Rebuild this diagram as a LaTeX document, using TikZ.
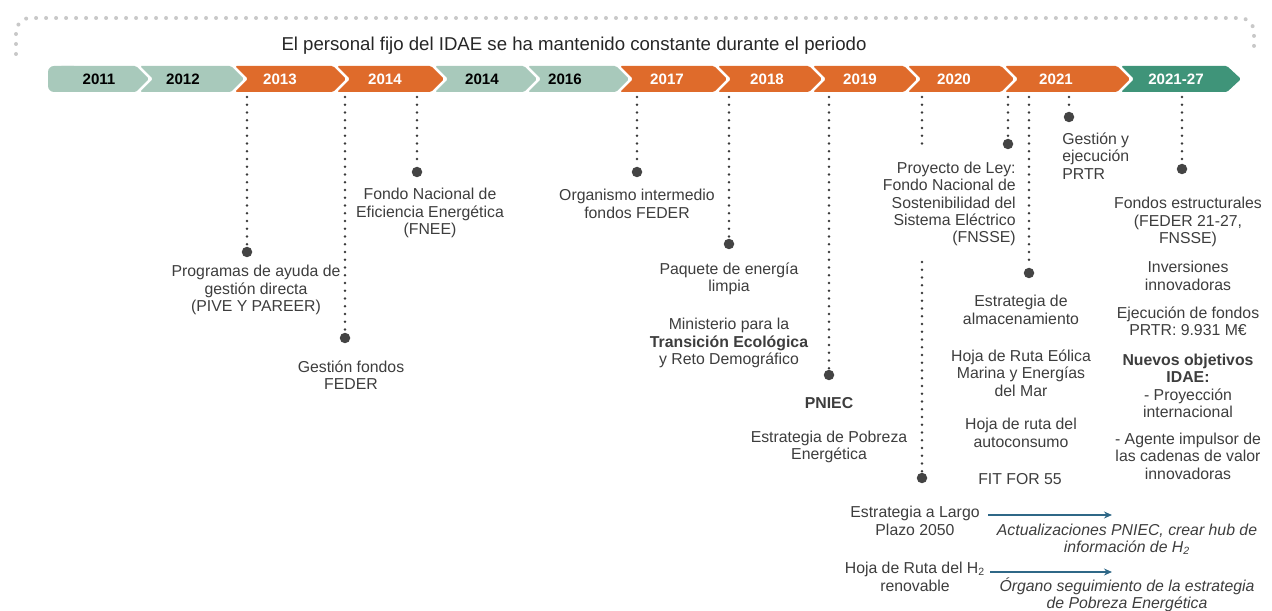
\documentclass[tikz,border=0pt]{standalone}
\usepackage{fontspec}
\setmainfont{Liberation Sans}
\usetikzlibrary{arrows.meta}

\definecolor{lgreen}{HTML}{A8C9BB}
\definecolor{dgreen}{HTML}{3F9479}
\definecolor{orng}{HTML}{DF6B2B}
\definecolor{txtgray}{HTML}{3D3D3D}
\definecolor{leadgray}{HTML}{3A3A3A}
\definecolor{dotgray}{HTML}{444444}
\definecolor{lightdots}{HTML}{C8C8C8}
\definecolor{arrowblue}{HTML}{2F6887}

\begin{document}
\begin{tikzpicture}[x=0.02cm,y=-0.02cm,
    txt/.style={text=txtgray,font=\fontsize{9}{9.9}\selectfont,align=center,inner sep=0pt},
    itxt/.style={txt,font=\fontsize{9}{9.9}\selectfont\itshape},
    year/.style={font=\fontsize{8.6}{10}\selectfont\bfseries,inner sep=0pt},
    chev/.style={rounded corners=0.03cm},
    leader/.style={draw=leadgray,line width=0.055cm,dash pattern=on 0pt off 0.155cm,line cap=round},
    evdot/.style={circle,fill=dotgray,inner sep=0pt,minimum size=0.21cm},
    flow/.style={draw=arrowblue,line width=0.035cm,-{Stealth[length=0.16cm,width=0.14cm]}}]

    \useasboundingbox (0,0) rectangle (1272,611);

    % dotted bracket and heading
    \draw[draw=lightdots,line width=0.08cm,dash pattern=on 0pt off 0.2cm,line cap=round,rounded corners=0.28cm]
        (16,54) -- (16,18) -- (1254,18) -- (1254,54);
    \node[text=black!85,font=\fontsize{10.6}{12}\selectfont,inner sep=0pt] (head) at (574,46)
        {El personal fijo del IDAE se ha mantenido constante durante el periodo};

    % years
    \fill[lgreen,rounded corners=0.12cm] (48,66) rectangle (80,92);
    \fill[lgreen,chev] (60,66) -- (136,66) -- (149,79) -- (136,92) -- (60,92) -- cycle;
    \fill[lgreen,chev] (140,66) -- (231,66) -- (244,79) -- (231,92) -- (140,92) -- (153,79) -- cycle;
    \fill[orng,chev] (235,66) -- (333,66) -- (346,79) -- (333,92) -- (235,92) -- (248,79) -- cycle;
    \fill[orng,chev] (337,66) -- (431,66) -- (444,79) -- (431,92) -- (337,92) -- (350,79) -- cycle;
    \fill[lgreen,chev] (435,66) -- (524,66) -- (537,79) -- (524,92) -- (435,92) -- (448,79) -- cycle;
    \fill[lgreen,chev] (528,66) -- (616,66) -- (629,79) -- (616,92) -- (528,92) -- (541,79) -- cycle;
    \fill[orng,chev] (620,66) -- (714,66) -- (727,79) -- (714,92) -- (620,92) -- (633,79) -- cycle;
    \fill[orng,chev] (718,66) -- (809,66) -- (822,79) -- (809,92) -- (718,92) -- (731,79) -- cycle;
    \fill[orng,chev] (813,66) -- (904,66) -- (917,79) -- (904,92) -- (813,92) -- (826,79) -- cycle;
    \fill[orng,chev] (908,66) -- (1001,66) -- (1014,79) -- (1001,92) -- (908,92) -- (921,79) -- cycle;
    \fill[orng,chev] (1005,66) -- (1117,66) -- (1130,79) -- (1117,92) -- (1005,92) -- (1018,79) -- cycle;
    \fill[dgreen,chev] (1121,66) -- (1227,66) -- (1241,79) -- (1227,92) -- (1121,92) -- (1134,79) -- cycle;

    \node[year,text=black] (y2011) at (99,79) {2011};
    \node[year,text=black] (y2012) at (183,79) {2012};
    \node[year,text=white] (y2013) at (280,79) {2013};
    \node[year,text=white] (y2014) at (385,79) {2014};
    \node[year,text=black] (y2014b) at (482,79) {2014};
    \node[year,text=black] (y2016) at (565,79) {2016};
    \node[year,text=white] (y2017) at (667,79) {2017};
    \node[year,text=white] (y2018) at (767,79) {2018};
    \node[year,text=white] (y2019) at (860,79) {2019};
    \node[year,text=white] (y2020) at (954,79) {2020};
    \node[year,text=white] (y2021) at (1056,79) {2021};
    \node[year,text=white] (y2127) at (1176,79) {2021-27};

    % event dots
    \node[evdot] (d_ayuda) at (247,252) {};
    \node[evdot] (d_feder) at (345,338) {};
    \node[evdot] (d_fnee) at (417,172) {};
    \node[evdot] (d_organ) at (637,172) {};
    \node[evdot] (d_paq) at (729,244) {};
    \node[evdot] (d_pniec) at (829,375) {};
    \node[evdot] (d_fit) at (922,478) {};
    \node[evdot] (d_ley) at (1008,144) {};
    \node[evdot] (d_alm) at (1029,273) {};
    \node[evdot] (d_prtr) at (1069,117) {};
    \node[evdot] (d_fondos) at (1182,169) {};

    \coordinate (t_ayuda) at (247,97);
    \coordinate (t_feder) at (345,97);
    \coordinate (t_fnee) at (417,97);
    \coordinate (t_organ) at (637,97);
    \coordinate (t_paq) at (729,97);
    \coordinate (t_pniec) at (829,97);
    \coordinate (t_fit) at (922,97);
    \coordinate (t_fit1) at (922,150);
    \coordinate (t_fit2) at (922,262);
    \coordinate (t_ley) at (1008,97);
    \coordinate (t_alm) at (1029,97);
    \coordinate (t_prtr) at (1069,97);
    \coordinate (t_fondos) at (1182,97);

    \draw[leader] (t_ayuda) -- (d_ayuda);
    \draw[leader] (t_feder) -- (d_feder);
    \draw[leader] (t_fnee) -- (d_fnee);
    \draw[leader] (t_organ) -- (d_organ);
    \draw[leader] (t_paq) -- (d_paq);
    \draw[leader] (t_pniec) -- (d_pniec);
    \draw[leader] (t_fit) -- (t_fit1);
    \draw[leader] (t_fit2) -- (d_fit);
    \draw[leader] (t_ley) -- (d_ley);
    \draw[leader] (t_alm) -- (d_alm);
    \draw[leader] (t_prtr) -- (d_prtr);
    \draw[leader] (t_fondos) -- (d_fondos);

    % texts
    \node[txt] (ayuda) at (256,290) {Programas de ayuda de\\gestión directa\\(PIVE Y PAREER)};
    \node[txt] (feder) at (351,375) {Gestión fondos\\FEDER};
    \node[txt] (fnee) at (430,213) {Fondo Nacional de\\Eficiencia Energética\\(FNEE)};
    \node[txt] (organ) at (637,204) {Organismo intermedio\\fondos FEDER};
    \node[txt] (paq) at (729,279) {Paquete de energía\\limpia};
    \node[txt] (miteco) at (729,343) {Ministerio para la\\\textbf{Transición Ecológica}\\y Reto Demográfico};
    \node[txt] (pniec) at (829,403) {\textbf{PNIEC}};
    \node[txt] (pobreza) at (829,447) {Estrategia de Pobreza\\Energética};
    \node[txt,align=right,anchor=east] (ley) at (1016,204)
        {Proyecto de Ley:\\Fondo Nacional de\\Sostenibilidad del\\Sistema Eléctrico\\(FNSSE)};
    \node[txt,align=left,anchor=west] (prtr) at (1062,156) {Gestión y\\ejecución\\PRTR};
    \node[txt] (alm) at (1021,310) {Estrategia de\\almacenamiento};
    \node[txt] (eolica) at (1021,373) {Hoja de Ruta Eólica\\Marina y Energías\\del Mar};
    \node[txt] (autoc) at (1021,433) {Hoja de ruta del\\autoconsumo};
    \node[txt] (fit) at (1020,479) {FIT FOR 55};
    \node[txt] (fondos) at (1188,222) {Fondos estructurales\\(FEDER 21-27,\\FNSSE)};
    \node[txt] (innov) at (1188,276) {Inversiones\\innovadoras};
    \node[txt] (ejec) at (1188,321) {Ejecución de fondos\\PRTR: 9.931 M€};
    \node[txt] (nuevos) at (1188,386) {\textbf{Nuevos objetivos}\\\textbf{IDAE:}\\- Proyección\\internacional};
    \node[txt] (agente) at (1188,456) {- Agente impulsor de\\las cadenas de valor\\innovadoras};

    \node[txt] (largo) at (915,521) {Estrategia a Largo\\Plazo 2050};
    \node[itxt] (actual) at (1127,539) {Actualizaciones PNIEC, crear hub de\\información de H\textsubscript{2}};
    \node[txt] (hidro) at (915,577) {Hoja de Ruta del H\textsubscript{2}\\renovable};
    \node[itxt] (organo) at (1127,595) {Órgano seguimiento de la estrategia\\de Pobreza Energética};

    \coordinate (a_largo) at (988,515);
    \coordinate (b_largo) at (1112,515);
    \coordinate (a_hidro) at (990,572);
    \coordinate (b_hidro) at (1112,572);
    \draw[flow] (a_largo) -- (b_largo);
    \draw[flow] (a_hidro) -- (b_hidro);

\end{tikzpicture}
\end{document}
